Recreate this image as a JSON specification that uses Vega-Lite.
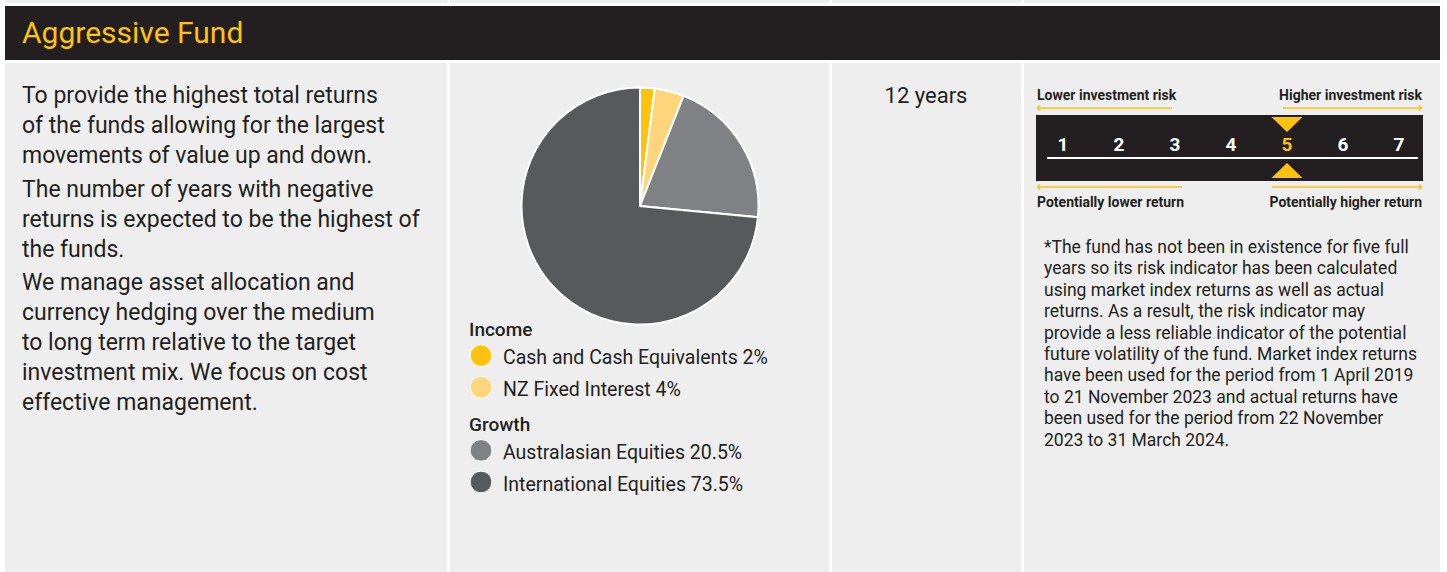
{
  "$schema": "https://vega.github.io/schema/vega-lite/v6.json",
  "padding": {"left": 5, "top": 0, "right": 0, "bottom": 0},
  "background": "#ffffff",
  "spacing": 3,
  "bounds": "full",
  "config": {
    "view": {"stroke": null, "fill": "#eeeeee"},
    "font": "Roboto"
  },
  "datasets": {
    "alloc": [
      {"idx": 1, "group": "Income", "category": "Cash and Cash Equivalents", "share": 2, "label": "Cash and Cash Equivalents 2%"},
      {"idx": 2, "group": "Income", "category": "NZ Fixed Interest", "share": 4, "label": "NZ Fixed Interest 4%"},
      {"idx": 3, "group": "Growth", "category": "Australasian Equities", "share": 20.5, "label": "Australasian Equities 20.5%"},
      {"idx": 4, "group": "Growth", "category": "International Equities", "share": 73.5, "label": "International Equities 73.5%"}
    ],
    "heads": [{"label": "Income"}, {"label": "Growth"}],
    "risk": [
      {"level": 1, "current": "no"},
      {"level": 2, "current": "no"},
      {"level": 3, "current": "no"},
      {"level": 4, "current": "no"},
      {"level": 5, "current": "yes"},
      {"level": 6, "current": "no"},
      {"level": 7, "current": "no"}
    ],
    "paras": [
      {"p": 1, "text": "To provide the highest total returns\nof the funds allowing for the largest\nmovements of value up and down."},
      {"p": 2, "text": "The number of years with negative\nreturns is expected to be the highest of\nthe funds."},
      {"p": 3, "text": "We manage asset allocation and\ncurrency hedging over the medium\nto long term relative to the target\ninvestment mix. We focus on cost\neffective management."}
    ]
  },
  "vconcat": [
    {
      "hconcat": [
        {"width": 442, "height": 3, "data": {"values": [{}]}, "mark": {"type": "rect", "color": "#eeeeee"}, "encoding": {}},
        {"width": 379, "height": 3, "data": {"values": [{}]}, "mark": {"type": "rect", "color": "#eeeeee"}, "encoding": {}},
        {"width": 189, "height": 3, "data": {"values": [{}]}, "mark": {"type": "rect", "color": "#eeeeee"}, "encoding": {}},
        {"width": 416, "height": 3, "data": {"values": [{}]}, "mark": {"type": "rect", "color": "#eeeeee"}, "encoding": {}}
      ],
      "spacing": 3,
      "bounds": "flush"
    },
    {
      "width": 1435,
      "height": 54,
      "view": {"fill": "#231f20", "stroke": null},
      "data": {"values": [{"t": "Aggressive Fund"}]},
      "mark": {"type": "text", "align": "left", "baseline": "alphabetic", "fontSize": 30, "color": "#ffc20e", "font": "Roboto"},
      "encoding": {
        "text": {"field": "t"},
        "x": {"value": 17},
        "y": {"value": 37}
      }
    },
    {
      "hconcat": [
        {
          "width": 442,
          "height": 509,
          "data": {"name": "paras"},
          "mark": {"type": "text", "align": "left", "baseline": "alphabetic", "lineBreak": "\n", "lineHeight": 30, "fontSize": 23, "color": "#231f20"},
          "encoding": {
            "text": {"field": "text"},
            "x": {"value": 17},
            "y": {"field": "p", "type": "quantitative", "scale": {"domain": [1, 3], "range": [40, 227], "zero": false, "nice": false}, "axis": null}
          }
        },
        {
          "width": 379,
          "height": 509,
          "layer": [
            {
              "data": {"name": "alloc"},
              "mark": {"type": "arc", "outerRadius": 118.5, "stroke": "#ffffff", "strokeWidth": 2},
              "encoding": {
                "theta": {"field": "share", "type": "quantitative", "stack": true},
                "order": {"field": "idx", "type": "quantitative"},
                "color": {"field": "category", "type": "nominal", "legend": null,
                  "scale": {"domain": ["Cash and Cash Equivalents", "NZ Fixed Interest", "Australasian Equities", "International Equities"],
                            "range": ["#ffc20e", "#ffd57c", "#808184", "#58595b"]}},
                "x": {"value": 190},
                "y": {"value": 143}
              }
            },
            {
              "data": {"name": "alloc"},
              "mark": {"type": "point", "filled": true, "size": 470, "stroke": "#ffffff", "strokeWidth": 1, "opacity": 1},
              "encoding": {
                "x": {"value": 31},
                "y": {"field": "label", "type": "nominal", "axis": null,
                  "scale": {"type": "point", "domain": ["Income", "Cash and Cash Equivalents 2%", "NZ Fixed Interest 4%", "Growth", "Australasian Equities 20.5%", "International Equities 73.5%"], "range": [261, 419], "padding": 0}},
                "color": {"field": "category", "type": "nominal", "legend": null}
              }
            },
            {
              "data": {"name": "alloc"},
              "mark": {"type": "text", "align": "left", "baseline": "alphabetic", "dy": 8.5, "fontSize": 19.5, "color": "#231f20"},
              "encoding": {
                "x": {"value": 53},
                "y": {"field": "label", "type": "nominal", "axis": null},
                "text": {"field": "label"}
              }
            },
            {
              "data": {"name": "heads"},
              "mark": {"type": "text", "align": "left", "baseline": "alphabetic", "dy": 12, "fontSize": 19, "fontWeight": 500, "color": "#231f20"},
              "encoding": {
                "x": {"value": 19},
                "y": {"field": "label", "type": "nominal", "axis": null},
                "text": {"field": "label"}
              }
            }
          ]
        },
        {
          "width": 189,
          "height": 509,
          "data": {"values": [{"t": "12 years"}]},
          "mark": {"type": "text", "align": "center", "baseline": "alphabetic", "fontSize": 22, "color": "#231f20"},
          "encoding": {
            "text": {"field": "t"},
            "x": {"value": 94},
            "y": {"value": 40.3}
          }
        },
        {
          "width": 416,
          "height": 509,
          "layer": [
            {
              "data": {"values": [{}]},
              "mark": {"type": "rect", "color": "#231f20"},
              "encoding": {"x": {"value": 12}, "x2": {"value": 399}, "y": {"value": 52}, "y2": {"value": 118}}
            },
            {
              "data": {"values": [{}]},
              "mark": {"type": "rule", "color": "#ffffff", "strokeWidth": 2},
              "encoding": {"x": {"value": 23}, "x2": {"value": 394}, "y": {"value": 95}}
            },
            {
              "data": {"name": "risk"},
              "mark": {"type": "text", "align": "center", "baseline": "alphabetic", "fontSize": 19, "fontWeight": "bold"},
              "encoding": {
                "x": {"field": "level", "type": "quantitative", "scale": {"domain": [1, 7], "range": [39, 375], "zero": false, "nice": false}, "axis": null},
                "y": {"value": 88},
                "text": {"field": "level"},
                "fill": {"field": "current", "type": "nominal", "legend": null, "scale": {"domain": ["no", "yes"], "range": ["#ffffff", "#ffc20e"]}}
              }
            },
            {
              "data": {"name": "risk"},
              "transform": [{"filter": "datum.current == 'yes'"}],
              "mark": {"type": "point", "shape": "M-1,-0.48L1,-0.48L0,0.48Z", "filled": true, "size": 961, "opacity": 1, "color": "#ffc20e"},
              "encoding": {
                "x": {"field": "level", "type": "quantitative", "axis": null},
                "y": {"value": 61.5}
              }
            },
            {
              "data": {"name": "risk"},
              "transform": [{"filter": "datum.current == 'yes'"}],
              "mark": {"type": "point", "shape": "M-1,0.48L1,0.48L0,-0.48Z", "filled": true, "size": 961, "opacity": 1, "color": "#ffc20e"},
              "encoding": {
                "x": {"field": "level", "type": "quantitative", "axis": null},
                "y": {"value": 107.5}
              }
            },
            {
              "data": {"values": [{}]},
              "mark": {"type": "rule", "color": "#ffc20e", "strokeWidth": 1.5},
              "encoding": {"x": {"value": 13}, "x2": {"value": 148}, "y": {"value": 45}}
            },
            {
              "data": {"values": [{}]},
              "mark": {"type": "rule", "color": "#ffc20e", "strokeWidth": 1.5},
              "encoding": {"x": {"value": 259}, "x2": {"value": 398}, "y": {"value": 45}}
            },
            {
              "data": {"values": [{}]},
              "mark": {"type": "rule", "color": "#ffc20e", "strokeWidth": 1.5},
              "encoding": {"x": {"value": 13}, "x2": {"value": 158}, "y": {"value": 124}}
            },
            {
              "data": {"values": [{}]},
              "mark": {"type": "rule", "color": "#ffc20e", "strokeWidth": 1.5},
              "encoding": {"x": {"value": 248}, "x2": {"value": 398}, "y": {"value": 124}}
            },
            {
              "data": {"values": [{}]},
              "mark": {"type": "point", "shape": "M1,-1L0,0L1,1", "filled": false, "size": 25, "strokeWidth": 1.5, "opacity": 1, "color": "#ffc20e"},
              "encoding": {"x": {"value": 13.5}, "y": {"value": 45}}
            },
            {
              "data": {"values": [{}]},
              "mark": {"type": "point", "shape": "M1,-1L0,0L1,1", "filled": false, "size": 25, "strokeWidth": 1.5, "opacity": 1, "color": "#ffc20e"},
              "encoding": {"x": {"value": 13.5}, "y": {"value": 124}}
            },
            {
              "data": {"values": [{}]},
              "mark": {"type": "point", "shape": "M-1,-1L0,0L-1,1", "filled": false, "size": 25, "strokeWidth": 1.5, "opacity": 1, "color": "#ffc20e"},
              "encoding": {"x": {"value": 397.5}, "y": {"value": 45}}
            },
            {
              "data": {"values": [{}]},
              "mark": {"type": "point", "shape": "M-1,-1L0,0L-1,1", "filled": false, "size": 25, "strokeWidth": 1.5, "opacity": 1, "color": "#ffc20e"},
              "encoding": {"x": {"value": 397.5}, "y": {"value": 124}}
            },
            {
              "data": {"values": [{"t": "Lower investment risk"}]},
              "mark": {"type": "text", "align": "left", "baseline": "alphabetic", "fontSize": 14, "fontWeight": "bold", "color": "#231f20"},
              "encoding": {"text": {"field": "t"}, "x": {"value": 13}, "y": {"value": 37}}
            },
            {
              "data": {"values": [{"t": "Higher investment risk"}]},
              "mark": {"type": "text", "align": "right", "baseline": "alphabetic", "fontSize": 14, "fontWeight": "bold", "color": "#231f20"},
              "encoding": {"text": {"field": "t"}, "x": {"value": 398}, "y": {"value": 37}}
            },
            {
              "data": {"values": [{"t": "Potentially lower return"}]},
              "mark": {"type": "text", "align": "left", "baseline": "alphabetic", "fontSize": 14, "fontWeight": "bold", "color": "#231f20"},
              "encoding": {"text": {"field": "t"}, "x": {"value": 13}, "y": {"value": 144}}
            },
            {
              "data": {"values": [{"t": "Potentially higher return"}]},
              "mark": {"type": "text", "align": "right", "baseline": "alphabetic", "fontSize": 14, "fontWeight": "bold", "color": "#231f20"},
              "encoding": {"text": {"field": "t"}, "x": {"value": 398}, "y": {"value": 144}}
            },
            {
              "data": {"values": [{"t": "*The fund has not been in existence for five full\nyears so its risk indicator has been calculated\nusing market index returns as well as actual\nreturns. As a result, the risk indicator may\nprovide a less reliable indicator of the potential\nfuture volatility of the fund. Market index returns\nhave been used for the period from 1 April 2019\nto 21 November 2023 and actual returns have\nbeen used for the period from 22 November\n2023 to 31 March 2024."}]},
              "mark": {"type": "text", "align": "left", "baseline": "alphabetic", "lineBreak": "\n", "lineHeight": 21.4, "fontSize": 17.5, "color": "#231f20"},
              "encoding": {"text": {"field": "t"}, "x": {"value": 20}, "y": {"value": 190}}
            }
          ]
        }
      ],
      "spacing": 3,
      "bounds": "flush",
      "resolve": {"scale": {"color": "independent", "fill": "independent"}}
    }
  ]
}
